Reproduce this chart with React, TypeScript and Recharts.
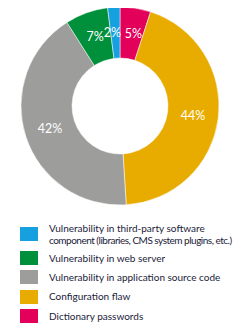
import React from "react";
import { PieChart, Pie, Cell, Legend } from "recharts";

const categories = [
  "Dictionary passwords",
  "Configuration flaw",
  "Vulnerability in application source code",
  "Vulnerability in web server",
  "Vulnerability in third-party software component (libraries, CMS system plugins, etc.)",
];
const legendLines: string[][] = [
  ["Dictionary passwords"],
  ["Configuration flaw"],
  ["Vulnerability in application source code"],
  ["Vulnerability in web server"],
  ["Vulnerability in third-party software", "component (libraries, CMS system plugins, etc.)"],
];
const values = [5, 44, 42, 7, 2];
const colors = ["#e3005b", "#e8ac00", "#9d9d9c", "#00903c", "#16a0e0"];

const data = categories.map((name, i) => ({ name, value: values[i] }));

const FONT = "Lato, 'Open Sans', sans-serif";
const RAD = Math.PI / 180;

const renderLabel = (props: any) => {
  const { cx, cy, midAngle, innerRadius, outerRadius, value } = props;
  const r = (innerRadius + outerRadius) / 2;
  let x = cx + r * Math.cos(-midAngle * RAD);
  const y = cy + r * Math.sin(-midAngle * RAD);
  if (Math.abs(x - cx) < 20) x += (x < cx ? -3 : 2);
  return (
    <text x={x} y={y} fill="#fff" fontSize={12.5} fontFamily={FONT} textAnchor="middle" dominantBaseline="central">
      {value}%
    </text>
  );
};

const LegendContent = () => {
  const order = [4, 3, 2, 1, 0];
  return (
    <div style={{ fontFamily: FONT, fontSize: 10, color: "#1b1b3a" }}>
      {order.map((i) => {
        const lines = legendLines[i];
        const h = lines.length > 1 ? 26 : 14;
        return (
          <div key={i} style={{ display: "flex", alignItems: "center", height: h, marginBottom: lines.length > 1 ? 4 : 5.3 }}>
            <div style={{ width: 18, height: 14, background: colors[i], marginLeft: 20, marginRight: 11, flexShrink: 0 }} />
            <div style={{ lineHeight: "12.5px", whiteSpace: "nowrap" }}>
              {lines.map((l, k) => (
                <div key={k} style={{ letterSpacing: k > 0 ? -0.5 : 0 }}>{l}</div>
              ))}
            </div>
          </div>
        );
      })}
    </div>
  );
};

export default function App() {
  return (
    <div style={{ margin: -8, width: 249, height: 336, background: "#fff" }}>
      <PieChart width={249} height={336} margin={{ top: 0, right: 0, bottom: 0, left: 0 }}>
        <Pie
          data={data}
          dataKey="value"
          nameKey="name"
          cx={120}
          cy={106}
          innerRadius={48}
          outerRadius={99}
          startAngle={90}
          endAngle={-270}
          stroke="#fff"
          strokeWidth={0.5}
          label={renderLabel}
          labelLine={false}
          isAnimationActive={false}
        >
          {data.map((d, i) => (
            <Cell key={d.name} fill={colors[i]} />
          ))}
        </Pie>
        <Legend
          content={<LegendContent />}
          wrapperStyle={{ left: 0, top: 221, width: 249 }}
        />
      </PieChart>
    </div>
  );
}
